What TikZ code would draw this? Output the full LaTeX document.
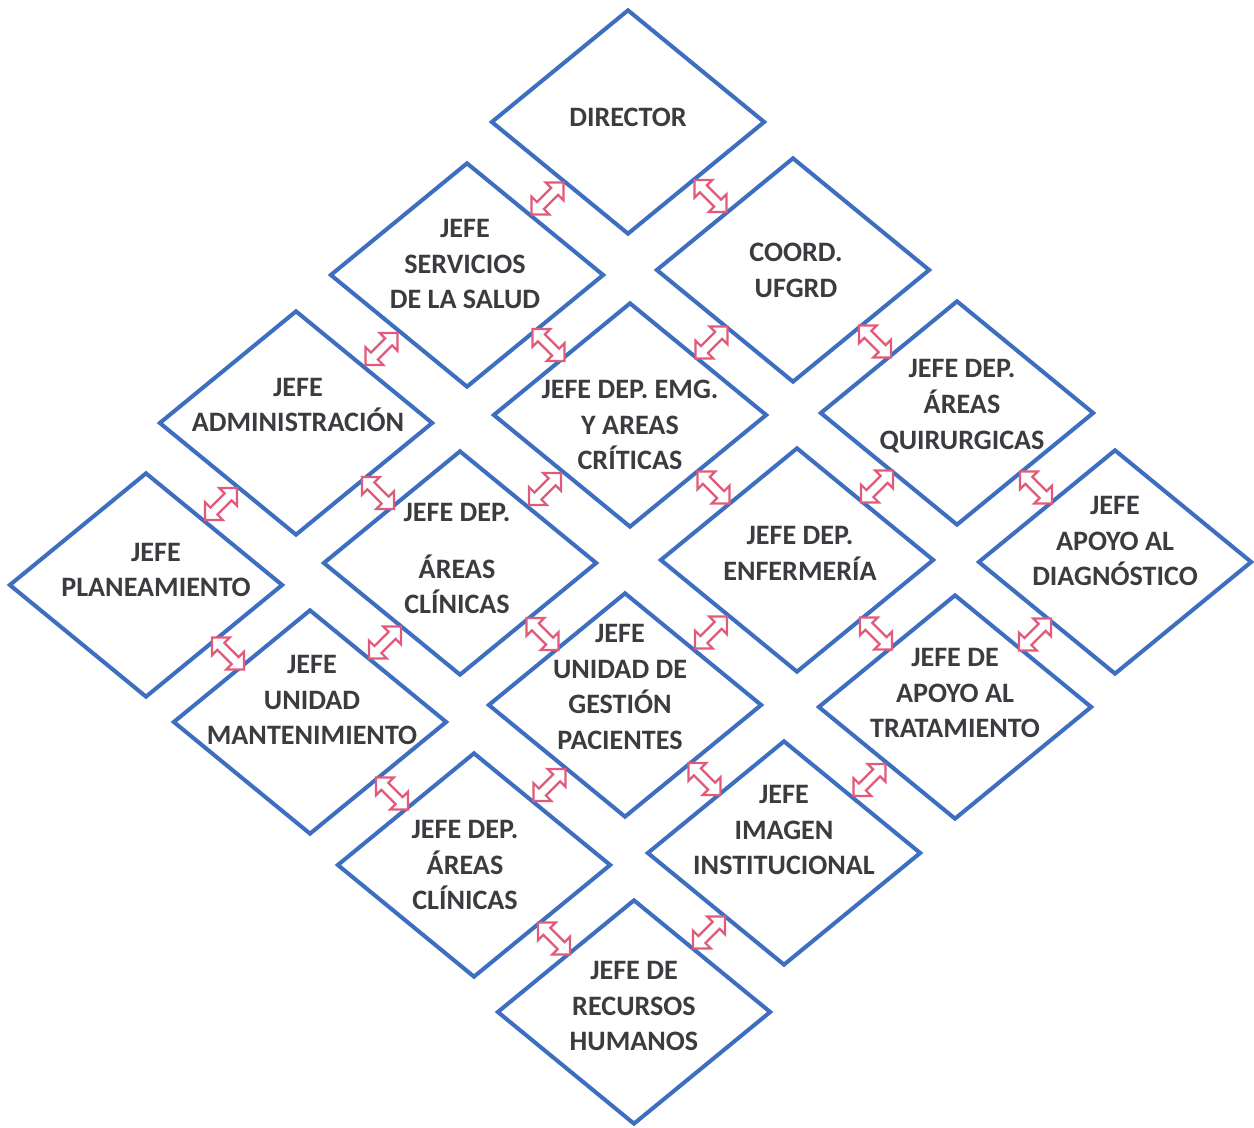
\documentclass[tikz,border=0pt]{standalone}
\usepackage{fontspec}
\setmainfont{Carlito}
\usetikzlibrary{shapes,positioning,calc}
\definecolor{boxblue}{RGB}{62,110,192}
\definecolor{linkpink}{RGB}{226,90,122}
\definecolor{txtgray}{RGB}{60,60,64}
\tikzset{
    box/.style={
        diamond,
        draw=boxblue,
        line width=2.3pt,
        minimum width=5.48cm,
        minimum height=4.5cm,
        inner sep=0pt,
    },
    txt/.style={
        align=center,
        text=txtgray,
        font=\bfseries\fontsize{16}{20.4}\selectfont,
        inner sep=0pt,
    },
    link/.pic={
        \draw[draw=linkpink,fill=white,line width=1.3pt,line join=miter]
            (-0.45,0) -- (-0.2,0.25) -- (-0.2,0.1) -- (0.2,0.1) -- (0.2,0.25)
            -- (0.45,0) -- (0.2,-0.25) -- (0.2,-0.1) -- (-0.2,-0.1) -- (-0.2,-0.25) -- cycle;
    },
}

\begin{document}
\begin{tikzpicture}
    \useasboundingbox (0,0) rectangle (25.08,22.54);
    % diamonds
    \node [box] (dir) at (12.56,20.10) {};
    \node [box] (serv) at (9.34,17.04) {};
    \node [box] (coord) at (15.86,17.14) {};
    \node [box] (admin) at (5.92,14.08) {};
    \node [box] (emg) at (12.60,14.24) {};
    \node [box] (quir) at (19.14,14.28) {};
    \node [box] (plan) at (2.92,10.84) {};
    \node [box] (clin) at (9.20,11.28) {};
    \node [box] (enf) at (15.94,11.34) {};
    \node [box] (diag) at (22.30,11.30) {};
    \node [box] (mant) at (6.20,8.10) {};
    \node [box] (gest) at (12.50,8.44) {};
    \node [box] (trat) at (19.10,8.40) {};
    \node [box] (clinb) at (9.48,5.24) {};
    \node [box] (imag) at (15.68,5.48) {};
    \node [box] (rrhh) at (12.68,2.30) {};
    % texts
    \node [txt] (dir-t) at ([yshift=0.1cm]dir.center) {DIRECTOR};
    \node [txt] (serv-t) at ([yshift=0.22cm,xshift=-0.04cm]serv.center) {JEFE\\SERVICIOS\\DE LA SALUD};
    \node [txt] (coord-t) at ([xshift=0.06cm]coord.center) {COORD.\\UFGRD};
    \node [txt] (admin-t) at ([yshift=0.36cm,xshift=0.04cm]admin.center) {JEFE\\ADMINISTRACIÓN};
    \node [txt] (emg-t) at ([yshift=-0.2cm]emg.center) {JEFE DEP. EMG.\\Y AREAS\\CRÍTICAS};
    \node [txt] (quir-t) at ([yshift=0.14cm,xshift=0.1cm]quir.center) {JEFE DEP.\\ÁREAS\\QUIRURGICAS};
    \node [txt] (plan-t) at ([yshift=0.3cm,xshift=0.2cm]plan.center) {JEFE\\PLANEAMIENTO};
    \node [txt] (clin-t) at ([yshift=0.09cm,xshift=-0.06cm]clin.center) {JEFE DEP.\\[12pt]ÁREAS\\CLÍNICAS};
    \node [txt] (enf-t) at ([yshift=0.14cm,xshift=0.06cm]enf.center) {JEFE DEP.\\ENFERMERÍA};
    \node [txt] (diag-t) at ([yshift=0.42cm]diag.center) {JEFE\\APOYO AL\\DIAGNÓSTICO};
    \node [txt] (mant-t) at ([yshift=0.44cm,xshift=0.04cm]mant.center) {JEFE\\UNIDAD\\MANTENIMIENTO};
    \node [txt] (gest-t) at ([yshift=0.36cm,xshift=-0.1cm]gest.center) {JEFE\\UNIDAD DE\\GESTIÓN\\PACIENTES};
    \node [txt] (trat-t) at ([yshift=0.28cm]trat.center) {JEFE DE\\APOYO AL\\TRATAMIENTO};
    \node [txt] (clinb-t) at ([xshift=-0.18cm]clinb.center) {JEFE DEP.\\ÁREAS\\CLÍNICAS};
    \node [txt] (imag-t) at ([yshift=0.46cm]imag.center) {JEFE\\IMAGEN\\INSTITUCIONAL};
    \node [txt] (rrhh-t) at ([yshift=0.12cm]rrhh.center) {JEFE DE\\RECURSOS\\HUMANOS};
    % links going down-left
    \pic [rotate=45] at ($(dir)!.5!(serv)$) {link};
    \pic [rotate=45] at ($(serv)!.5!(admin)$) {link};
    \pic [rotate=45] at ($(admin)!.5!(plan)$) {link};
    \pic [rotate=45] at ($(coord)!.5!(emg)$) {link};
    \pic [rotate=45] at ($(emg)!.5!(clin)$) {link};
    \pic [rotate=45] at ($(clin)!.5!(mant)$) {link};
    \pic [rotate=45] at ($(quir)!.5!(enf)$) {link};
    \pic [rotate=45] at ($(enf)!.5!(gest)$) {link};
    \pic [rotate=45] at ($(gest)!.5!(clinb)$) {link};
    \pic [rotate=45] at ($(diag)!.5!(trat)$) {link};
    \pic [rotate=45] at ($(trat)!.5!(imag)$) {link};
    \pic [rotate=45] at ($(imag)!.5!(rrhh)$) {link};
    % links going down-right
    \pic [rotate=-45] at ($(dir)!.5!(coord)$) {link};
    \pic [rotate=-45] at ($(coord)!.5!(quir)$) {link};
    \pic [rotate=-45] at ($(quir)!.5!(diag)$) {link};
    \pic [rotate=-45] at ($(serv)!.5!(emg)$) {link};
    \pic [rotate=-45] at ($(emg)!.5!(enf)$) {link};
    \pic [rotate=-45] at ($(enf)!.5!(trat)$) {link};
    \pic [rotate=-45] at ($(admin)!.5!(clin)$) {link};
    \pic [rotate=-45] at ($(clin)!.5!(gest)$) {link};
    \pic [rotate=-45] at ($(gest)!.5!(imag)$) {link};
    \pic [rotate=-45] at ($(plan)!.5!(mant)$) {link};
    \pic [rotate=-45] at ($(mant)!.5!(clinb)$) {link};
    \pic [rotate=-45] at ($(clinb)!.5!(rrhh)$) {link};
\end{tikzpicture}
\end{document}
